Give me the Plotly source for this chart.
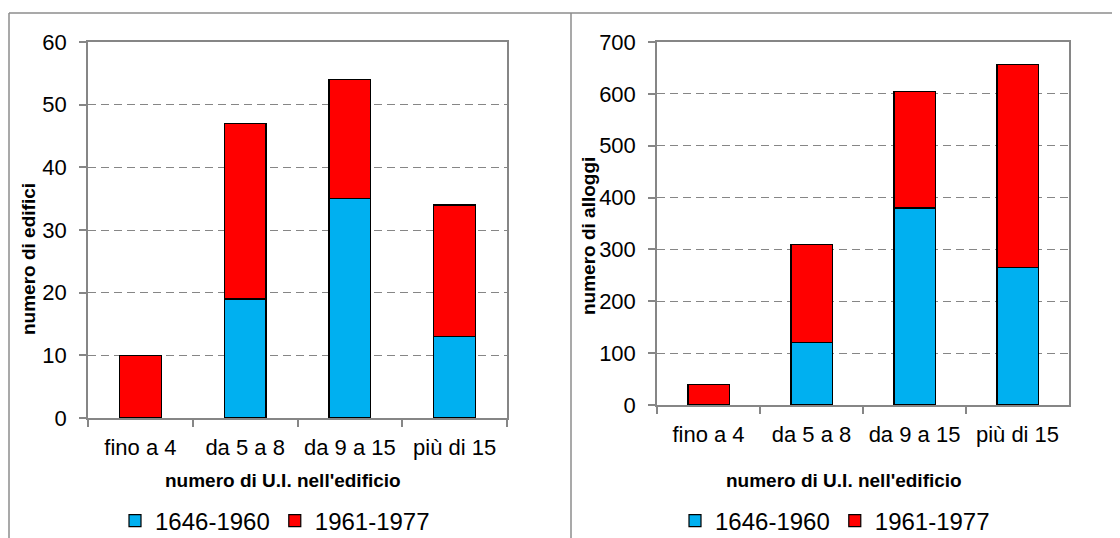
import plotly.graph_objects as go

categorie = ['fino a 4', 'da 5 a 8', 'da 9 a 15', 'più di 15']

# numero di edifici
edifici_1646_1960 = [0, 19, 35, 13]
edifici_1961_1977 = [10, 28, 19, 21]

# numero di alloggi
alloggi_1646_1960 = [0, 120, 380, 265]
alloggi_1961_1977 = [40, 190, 225, 392]

BLU = '#00B0F0'
ROSSO = '#FF0000'
GRIGIO = '#868686'
FONT = 'Liberation Sans, Arial, sans-serif'

fig = go.Figure()

fig.add_trace(go.Bar(x=categorie, y=edifici_1646_1960, name='1646-1960',
                     marker=dict(color=BLU, line=dict(color='black', width=1.2)),
                     xaxis='x', yaxis='y', legend='legend'))
fig.add_trace(go.Bar(x=categorie, y=edifici_1961_1977, name='1961-1977',
                     marker=dict(color=ROSSO, line=dict(color='black', width=1.2)),
                     xaxis='x', yaxis='y', legend='legend'))
fig.add_trace(go.Bar(x=categorie, y=alloggi_1646_1960, name='1646-1960',
                     marker=dict(color=BLU, line=dict(color='black', width=1.2)),
                     xaxis='x2', yaxis='y2', legend='legend2'))
fig.add_trace(go.Bar(x=categorie, y=alloggi_1961_1977, name='1961-1977',
                     marker=dict(color=ROSSO, line=dict(color='black', width=1.2)),
                     xaxis='x2', yaxis='y2', legend='legend2'))

W, H = 1120, 538
OFF = 8  # margine del body della pagina


def px_x(v):
    return (v - OFF) / W


def px_y(v):
    return 1 - (v - OFF) / H


asse_x = dict(type='category', showline=True, linecolor=GRIGIO, linewidth=1.5,
              mirror=True, ticks='outside', tickson='boundaries', ticklen=7,
              tickcolor=GRIGIO, tickwidth=1.5, showgrid=False,
              tickfont=dict(family=FONT, size=22, color='black'),
              ticklabelstandoff=9)
asse_y = dict(showline=True, linecolor=GRIGIO, linewidth=1.5, mirror=True,
              ticks='outside', ticklen=7, tickcolor=GRIGIO, tickwidth=1.5,
              showgrid=True, gridcolor=GRIGIO, griddash='8px,5px', gridwidth=1.3,
              zeroline=False,
              tickfont=dict(family=FONT, size=22, color='black'),
              ticklabelstandoff=8)

fig.update_layout(
    width=W, height=H,
    margin=dict(l=0, r=0, t=0, b=0, autoexpand=False),
    paper_bgcolor='white', plot_bgcolor='white',
    barmode='stack', bargap=0.6,
    font=dict(family=FONT, color='black'),
    xaxis=dict(asse_x, domain=[px_x(88), px_x(507)], anchor='y'),
    yaxis=dict(asse_y, domain=[px_y(418), px_y(42)], anchor='x',
               range=[0, 60], dtick=10),
    xaxis2=dict(asse_x, domain=[px_x(657), px_x(1069)], anchor='y2'),
    yaxis2=dict(asse_y, domain=[px_y(405), px_y(42)], anchor='x2',
                range=[0, 700], dtick=100),
    legend=dict(orientation='h', x=px_x(275), xanchor='center',
                y=px_y(521), yanchor='middle', traceorder='normal',
                font=dict(family=FONT, size=24, color='black'),
                itemwidth=30, tracegroupgap=0),
    legend2=dict(orientation='h', x=px_x(835), xanchor='center',
                 y=px_y(521), yanchor='middle', traceorder='normal',
                 font=dict(family=FONT, size=24, color='black'),
                 itemwidth=30, tracegroupgap=0),
    showlegend=True,
)

titolo = dict(family=FONT, size=19, color='black', weight='bold')
comune = dict(xref='paper', yref='paper', showarrow=False, font=titolo,
              xanchor='center', yanchor='middle')
fig.add_annotation(text="numero di U.I. nell'edificio",
                   x=px_x(283), y=px_y(480), **comune)
fig.add_annotation(text="numero di U.I. nell'edificio",
                   x=px_x(844), y=px_y(480), **comune)
fig.add_annotation(text='numero di edifici', x=px_x(28), y=px_y(259),
                   textangle=-90, **comune)
fig.add_annotation(text='numero di alloggi', x=px_x(588), y=px_y(236),
                   textangle=-90, **comune)

# cornici dei due grafici
bordo = dict(color='#8c8c8c', width=1.5)
fig.add_shape(type='line', xref='paper', yref='paper', x0=px_x(9), x1=1,
              y0=px_y(13), y1=px_y(13), line=bordo)
fig.add_shape(type='line', xref='paper', yref='paper', x0=px_x(9), x1=px_x(9),
              y0=0, y1=px_y(13), line=bordo)
fig.add_shape(type='line', xref='paper', yref='paper', x0=px_x(571), x1=px_x(571),
              y0=0, y1=px_y(13), line=bordo)

fig.write_html('out.html')
